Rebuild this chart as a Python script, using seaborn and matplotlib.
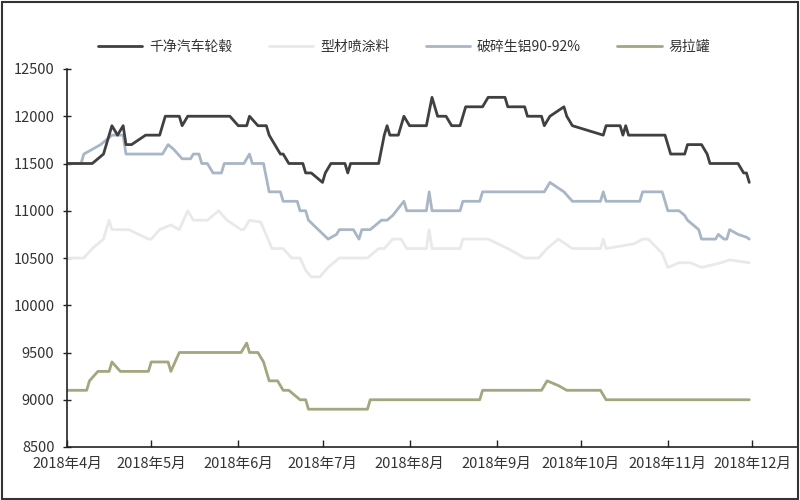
import numpy as np
import pandas as pd
import matplotlib
matplotlib.use("Agg")
import matplotlib.pyplot as plt
import matplotlib.dates as mdates
from matplotlib.patches import Rectangle
from matplotlib.ticker import FuncFormatter
import seaborn as sns

# ---------------- data (day index = days since 2018-04-01) ----------------
start_date = "2018-04-01"

wheel_days = [0, 9, 13, 16, 18, 20, 21, 23, 28, 33, 35, 40, 41, 43, 58, 61, 64, 65, 68, 71, 72,
              74, 76, 77, 79, 84, 85, 87, 91, 92, 94, 99, 100, 101, 111, 113, 114, 115, 118, 120,
              122, 128, 130, 132, 135, 137, 140, 142, 148, 150, 156, 157, 163, 164, 169, 170, 172,
              177, 178, 180, 191, 192, 197, 198, 199, 200, 213, 215, 220, 221, 226, 228, 229, 239,
              241, 242, 243]
wheel_vals = [11500, 11500, 11600, 11900, 11800, 11900, 11700, 11700, 11800, 11800, 12000, 12000,
              11900, 12000, 12000, 11900, 11900, 12000, 11900, 11900, 11800, 11700, 11600, 11600,
              11500, 11500, 11400, 11400, 11300, 11400, 11500, 11500, 11400, 11500, 11500, 11800,
              11900, 11800, 11800, 12000, 11900, 11900, 12200, 12000, 12000, 11900, 11900, 12100,
              12100, 12200, 12200, 12100, 12100, 12000, 12000, 11900, 12000, 12100, 12000, 11900,
              11800, 11900, 11900, 11800, 11900, 11800, 11800, 11600, 11600, 11700, 11700, 11600,
              11500, 11500, 11400, 11400, 11300]

paint_days = [0, 6, 9, 13, 15, 16, 22, 29, 30, 33, 37, 40, 43, 45, 50, 54, 57, 62, 63, 65, 69, 73,
              77, 80, 83, 85, 87, 90, 93, 97, 107, 111, 113, 116, 119, 121, 128, 129, 130, 140, 141,
              150, 157, 163, 168, 171, 175, 180, 190, 191, 192, 202, 205, 207, 212, 214, 218, 222,
              226, 233, 236, 243]
paint_vals = [10500, 10500, 10600, 10700, 10900, 10800, 10800, 10700, 10700, 10800, 10850, 10800,
              11000, 10900, 10900, 11000, 10900, 10800, 10800, 10900, 10880, 10600, 10600, 10500,
              10500, 10370, 10300, 10300, 10400, 10500, 10500, 10600, 10600, 10700, 10700, 10600,
              10600, 10800, 10600, 10600, 10700, 10700, 10600, 10500, 10500, 10600, 10700, 10600,
              10600, 10700, 10600, 10650, 10700, 10700, 10550, 10400, 10450, 10450, 10400, 10450,
              10480, 10450]

alu_days = [0, 5, 6, 9, 12, 16, 20, 21, 34, 36, 38, 41, 44, 45, 47, 48, 50, 52, 55, 56, 63, 65, 66,
            70, 71, 72, 76, 77, 82, 83, 85, 86, 93, 96, 97, 102, 104, 105, 108, 112, 114, 116, 120,
            121, 128, 129, 130, 140, 141, 147, 148, 170, 172, 177, 180, 190, 191, 192, 204, 205,
            212, 214, 218, 220, 221, 225, 226, 231, 232, 234, 235, 236, 239, 242, 243]
alu_vals = [11500, 11500, 11600, 11650, 11700, 11800, 11800, 11600, 11600, 11700, 11650, 11550,
            11550, 11600, 11600, 11500, 11500, 11400, 11400, 11500, 11500, 11600, 11500, 11500,
            11350, 11200, 11200, 11100, 11100, 11000, 11000, 10900, 10700, 10750, 10800, 10800,
            10700, 10800, 10800, 10900, 10900, 10950, 11100, 11000, 11000, 11200, 11000, 11000,
            11100, 11100, 11200, 11200, 11300, 11200, 11100, 11100, 11200, 11100, 11100, 11200,
            11200, 11000, 11000, 10950, 10900, 10800, 10700, 10700, 10750, 10700, 10700, 10800,
            10750, 10720, 10700]

can_days = [0, 7, 8, 11, 15, 16, 19, 29, 30, 36, 37, 40, 62, 64, 65, 68, 70, 72, 75, 77, 79, 83,
            85, 86, 107, 108, 147, 148, 169, 171, 175, 178, 190, 192, 243]
can_vals = [9100, 9100, 9200, 9300, 9300, 9400, 9300, 9300, 9400, 9400, 9300, 9500, 9500, 9600,
            9500, 9500, 9400, 9200, 9200, 9100, 9100, 9000, 9000, 8900, 8900, 9000, 9000, 9100,
            9100, 9200, 9150, 9100, 9100, 9000, 9000]

series_names = ["千净汽车轮毂", "型材喷涂料", "破碎生铝90-92%", "易拉罐"]
series_colors = ["#404040", "#e9e9e9", "#a9b6c6", "#a3a67e"]

y_ticks = [8500, 9000, 9500, 10000, 10500, 11000, 11500, 12000, 12500]
x_tick_months = ["2018-04-01", "2018-05-01", "2018-06-01", "2018-07-01", "2018-08-01",
                 "2018-09-01", "2018-10-01", "2018-11-01", "2018-12-01"]

# ---------------- build frame ----------------
base = pd.Timestamp(start_date)
frames = []
for name, d, v in zip(series_names,
                      [wheel_days, paint_days, alu_days, can_days],
                      [wheel_vals, paint_vals, alu_vals, can_vals]):
    frames.append(pd.DataFrame({"date": base + pd.to_timedelta(d, unit="D"),
                                "price": v, "series": name}))
df = pd.concat(frames, ignore_index=True)

# ---------------- style ----------------
sns.set_theme(style="white")
plt.rcParams["font.family"] = ["Noto Sans CJK SC", "DejaVu Sans"]
plt.rcParams["axes.unicode_minus"] = False

fig = plt.figure(figsize=(8, 5), dpi=100)
ax = fig.add_axes([67 / 800, 53 / 500, 730 / 800, 378 / 500])

# draw light series first so dark ones sit on top
order = ["型材喷涂料", "易拉罐", "破碎生铝90-92%", "千净汽车轮毂"]
pal = dict(zip(series_names, series_colors))
handles = {}
for name in order:
    sub = df[df["series"] == name]
    sns.lineplot(data=sub, x="date", y="price", ax=ax, color=pal[name], lw=2.0,
                 estimator=None, sort=False, label=name, legend=False)
    handles[name] = ax.lines[-1]

ax.set_ylim(8500, 12500)
ax.set_yticks(y_ticks)
ax.set_xlim(base, base + pd.Timedelta(days=260))
ax.set_xticks(pd.to_datetime(x_tick_months))
ax.xaxis.set_major_formatter(FuncFormatter(
    lambda x, p: f"{mdates.num2date(x).year}年{mdates.num2date(x).month}月"))
ax.set_xlabel("")
ax.set_ylabel("")

for s in ["top", "right"]:
    ax.spines[s].set_visible(False)
for s in ["left", "bottom"]:
    ax.spines[s].set_color("#222222")
    ax.spines[s].set_linewidth(1.2)

ax.tick_params(axis="x", direction="in", length=5, width=1, color="#222222",
               labelsize=10.5, labelcolor="#333333", pad=7, bottom=True)
ax.tick_params(axis="y", direction="inout", length=6, width=1, color="#222222",
               labelsize=10.5, labelcolor="#333333", pad=6, left=True)
ax.grid(False)

fig.legend([handles[n] for n in series_names], series_names, loc="center",
           bbox_to_anchor=(0.505, 0.906), ncol=4, frameon=False, fontsize=10,
           handlelength=3.2, handletextpad=0.5, columnspacing=2.6,
           labelcolor="#333333")

fig.add_artist(Rectangle((0.002, 0.003), 0.996, 0.994, transform=fig.transFigure,
                         fill=False, ec="#333333", lw=1.5))

fig.savefig("out.png", dpi=100, facecolor="white")
